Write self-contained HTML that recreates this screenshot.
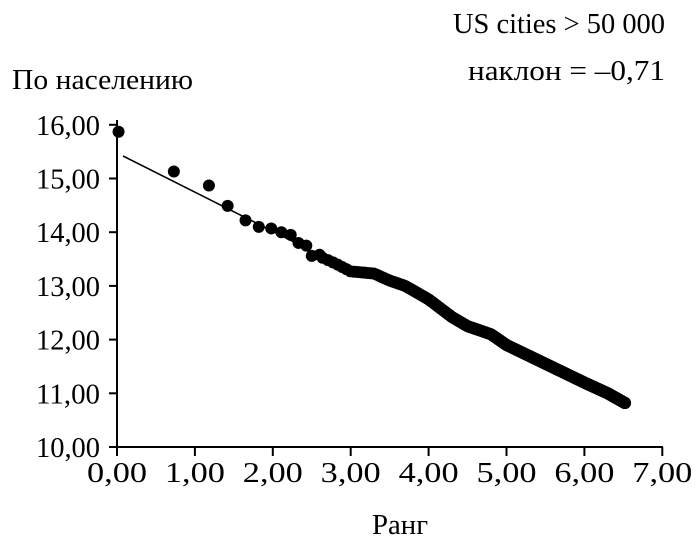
<!DOCTYPE html>
<html><head><meta charset="utf-8"><style>body{margin:0;background:#fff}svg{display:block}text{font-family:"Liberation Serif",serif;font-size:28px;fill:#000}</style></head>
<body>
<svg id="s" width="700" height="551" viewBox="0 0 700 551">
<text x="453" y="33" textLength="212" lengthAdjust="spacingAndGlyphs">US cities &gt; 50 000</text>
<text x="468" y="80" textLength="197" lengthAdjust="spacingAndGlyphs">наклон = –0,71</text>
<text x="12" y="89" textLength="181" lengthAdjust="spacingAndGlyphs">По населению</text>
<text x="372" y="534" textLength="56" lengthAdjust="spacingAndGlyphs">Ранг</text>
<g id="ax" stroke="#000" stroke-width="2" fill="none"></g>
<g id="lab"></g>
<line x1="123" y1="156" x2="310" y2="250" stroke="#000" stroke-width="1.6"/>
<g id="pts" fill="#000"></g>
</svg>
<script>
var X=function(v){return 117+v*77.9},Y=function(v){return 447-(v-10)*53.7};
var ns="http://www.w3.org/2000/svg",ax=document.getElementById('ax'),lab=document.getElementById('lab'),pts=document.getElementById('pts');
function el(p,t,a){var e=document.createElementNS(ns,t);for(var k in a)e.setAttribute(k,a[k]);p.appendChild(e);return e}
el(ax,'line',{x1:117,y1:120,x2:117,y2:447});
el(ax,'line',{x1:117,y1:447,x2:663,y2:447});
for(var i=0;i<=7;i++){var x=X(i);el(ax,'line',{x1:x,y1:447,x2:x,y2:456});var t=el(lab,'text',{x:x-30,y:482,textLength:60,lengthAdjust:'spacingAndGlyphs'});t.textContent=i+',00';}
for(var j=10;j<=16;j++){var y=Y(j);el(ax,'line',{x1:109,y1:y,x2:117,y2:y});var t=el(lab,'text',{x:36,y:y+10,textLength:64,lengthAdjust:'spacingAndGlyphs'});t.textContent=j+',00';}
var man=[[0.02,15.87],[0.73,15.13],[1.18,14.87],[1.42,14.49],[1.65,14.22],[1.82,14.1],[1.98,14.07],[2.11,14.0],[2.23,13.95],[2.33,13.8],[2.43,13.75],[2.5,13.56],[2.6,13.58]];
man.forEach(function(p){el(pts,'circle',{cx:X(p[0]),cy:Y(p[1]),r:6})});
var cv=[[2.6,13.55],[2.8,13.42],[3.0,13.27],[3.3,13.23],[3.5,13.1],[3.7,13.0],[4.0,12.75],[4.3,12.42],[4.5,12.25],[4.8,12.1],[5.0,11.9],[5.5,11.55],[6.0,11.2],[6.3,11.0],[6.52,10.82]];
function f(x){for(var i=1;i<cv.length;i++){if(x<=cv[i][0]){var a=cv[i-1],b=cv[i];return a[1]+(b[1]-a[1])*(x-a[0])/(b[0]-a[0])}}return 10.82}
for(var r=14;r<=680;r++){var x=Math.log(r);if(x<2.6)continue;el(pts,'circle',{cx:X(x),cy:Y(f(x)),r:6})}
</script>
</body></html>
